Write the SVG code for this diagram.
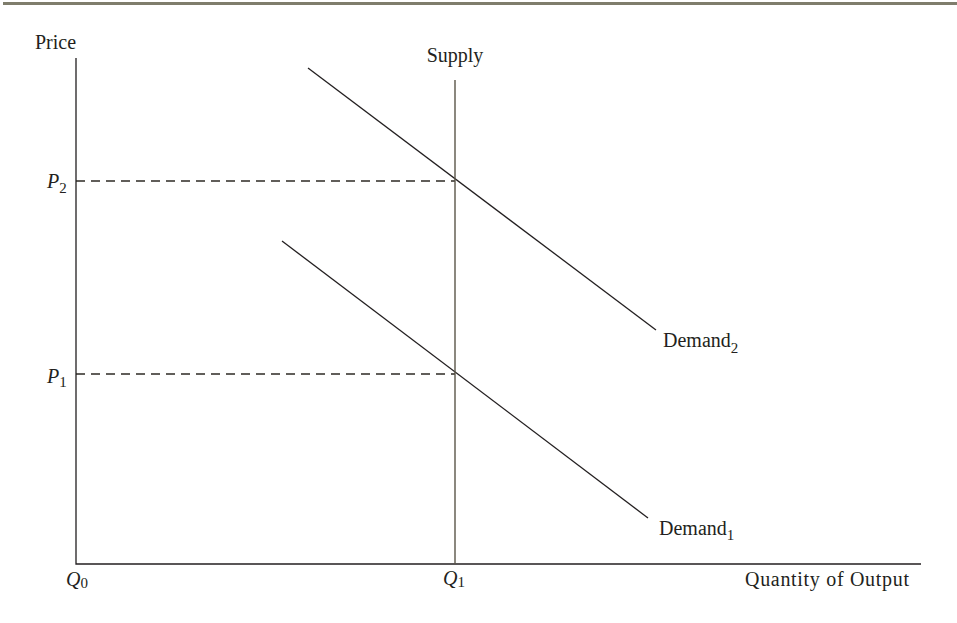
<svg xmlns="http://www.w3.org/2000/svg" width="957" height="623" viewBox="0 0 957 623">
<style>
.t{font-family:"Liberation Serif","Times New Roman",serif;font-size:20px;fill:#231f20}
.i{font-style:italic}
.s{font-size:15px}
.ln{stroke:#231f20;stroke-width:1.3;fill:none}
.dash{stroke:#2e2a25;stroke-width:1.3;stroke-dasharray:9,6;fill:none}
</style>
<rect x="3" y="2" width="954" height="3" fill="#7f7d6c"/>
<g id="connectors">
<line class="dash" x1="76" y1="181" x2="455" y2="181"/>
<line class="dash" x1="76" y1="374" x2="455" y2="374"/>
<line class="ln" x1="308" y1="68" x2="656" y2="330"/>
<line class="ln" x1="282" y1="241" x2="648" y2="518"/>
</g>
<g id="axes">
<polyline class="ln" points="76,58 76,564 921,564" stroke="#3a3528"/>
</g>
<g id="supply">
<line x1="455" y1="80" x2="455" y2="564" stroke="#5a5548" stroke-width="1.4"/>
<text class="t" x="455" y="62" text-anchor="middle">Supply</text>
</g>
<g id="labels">
<text class="t" x="35" y="49">Price</text>
<text class="t" x="47" y="188"><tspan class="i">P</tspan><tspan class="s" dy="5">2</tspan></text>
<text class="t" x="47" y="383"><tspan class="i">P</tspan><tspan class="s" dy="4">1</tspan></text>
<text class="t" x="66" y="586"><tspan class="i">Q</tspan><tspan class="s" dy="2">0</tspan></text>
<text class="t" x="443" y="585"><tspan class="i">Q</tspan><tspan class="s" dy="2">1</tspan></text>
<text class="t" x="745" y="586" textLength="164" lengthAdjust="spacing">Quantity of Output</text>
</g>
<g id="demand2">
<text class="t" x="663" y="347">Demand<tspan class="s" dy="6">2</tspan></text>
</g>
<g id="demand1">
<text class="t" x="659" y="535">Demand<tspan class="s" dy="5">1</tspan></text>
</g>
</svg>
